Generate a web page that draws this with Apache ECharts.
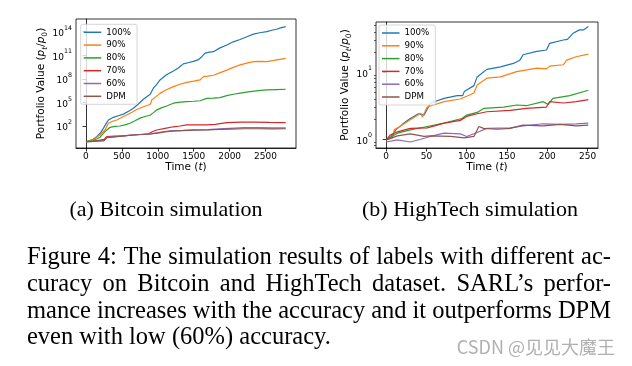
<!DOCTYPE html>
<html><head><meta charset="utf-8">
<script src="https://cdn.jsdelivr.net/npm/echarts@6/dist/echarts.min.js"></script>
<style>html,body{margin:0;padding:0;background:#fff}#c{width:632px;height:366px}</style>
</head><body><div id="c"></div><script>
// ---------- DATA ----------
const seriesNames = ['100%', '90%', '80%', '70%', '60%', 'DPM'];
const colors = ['#1f77b4', '#ff7f0e', '#2ca02c', '#d62728', '#9467bd', '#8c564b'];

// (a) Bitcoin simulation: [time, portfolio value]
const btc100 = [[0,1],[100,2],[149,4.4],[200,12.6],[242,50],[280,200],[312,575],[381,1.26e3],[450,2e3],[520,3.2e3],[600,7.9e3],[660,1.8e4],[730,6.3e4],[799,2.5e5],[860,6.3e5],[892,1e6],[938,6.3e6],[985,2e7],[1031,7.1e7],[1120,3.2e8],[1217,1e9],[1290,2.5e9],[1356,7.9e9],[1420,1.1e10],[1495,1.6e10],[1560,2.5e10],[1600,5e10],[1658,1.8e11],[1720,2.5e11],[1774,2.8e11],[1860,7.9e11],[1960,2e12],[2050,5e12],[2145,1e13],[2240,2.2e13],[2331,4.7e13],[2420,7.1e13],[2517,1e14],[2600,1.6e14],[2656,2e14],[2720,3.2e14],[2781,4.3e14]];
const btc90 = [[0,1],[100,1.8],[149,3.6],[200,7.9],[265,31],[312,219],[370,398],[428,575],[500,1.26e3],[567,2.5e3],[640,5.6e3],[706,1.26e4],[800,2.8e4],[869,4.7e4],[900,6.3e4],[915,2e5],[970,5e5],[1031,1.4e6],[1120,4e6],[1217,1e7],[1310,2e7],[1403,3.5e7],[1500,5e7],[1588,7.1e7],[1610,1.26e8],[1635,1.9e8],[1700,2.2e8],[1774,2.8e8],[1860,5.6e8],[1960,1.26e9],[2050,2.8e9],[2145,5.8e9],[2240,1e10],[2331,1.5e10],[2420,1.6e10],[2517,1.5e10],[2600,2e10],[2656,2.5e10],[2781,4e10]];
const btc80 = [[0,1],[100,1.4],[149,2.2],[200,4],[242,11.7],[290,31.6],[335,68],[400,89],[474,100],[540,141],[613,219],[690,501],[753,1e3],[820,1.6e3],[892,2.3e3],[940,5e3],[985,1.1e4],[1050,2e4],[1124,3.5e4],[1217,7.9e4],[1310,1.1e5],[1403,1.26e5],[1500,1.4e5],[1588,1.6e5],[1681,3.2e5],[1770,3.5e5],[1867,4e5],[1960,7.1e5],[2052,1.07e6],[2170,1.6e6],[2285,2.3e6],[2400,3.2e6],[2517,3.8e6],[2650,4.3e6],[2781,4.7e6]];
const btc70 = [[0,1],[100,1.12],[196,1.66],[250,2],[288,4.4],[400,5],[520,5.6],[660,7.1],[800,8.9],[870,10],[892,11.7],[930,20],[985,31],[1100,50],[1217,79],[1310,100],[1403,135],[1550,141],[1681,135],[1800,158],[1960,263],[2150,302],[2331,316],[2550,282],[2781,263]];
const btc60 = [[0,1],[100,1.12],[196,1.26],[250,1.41],[290,3.5],[400,4.5],[500,5.4],[650,7.1],[800,8.9],[900,10],[1000,14.1],[1100,20],[1200,25],[1350,28],[1500,32],[1700,35],[1850,42],[2000,50],[2200,60],[2400,60],[2600,56],[2781,56]];
const btcDPM = [[0,1],[100,1.12],[196,1.26],[250,1.32],[290,3.2],[400,4.2],[500,5.2],[650,7.1],[800,8.3],[900,9.5],[1000,12.6],[1100,17.8],[1200,22.4],[1350,26],[1500,29.5],[1700,31.6],[1850,35.5],[2000,39.8],[2200,44.7],[2400,44.7],[2600,41.7],[2781,44.7]];

// (b) HighTech simulation: [time, portfolio value]
const ht100 = [[0,0.98],[5,1.05],[12,1.38],[22,1.74],[30,2.04],[40,2.4],[47,2.29],[55,3.47],[72,4.07],[88,4.47],[95,4.47],[97,5.13],[109,6.3],[113,8.5],[125,11],[142,12],[158,13.5],[166,15.1],[170,18.2],[187,20.4],[199,21.4],[203,26.9],[220,30.2],[225,30.9],[232,38],[240,42.7],[245,42.7],[251,47.9]];
const ht90 = [[0,0.98],[8,1.05],[10,1.38],[18,1.58],[30,1.95],[43,2.45],[45,2.14],[51,3.02],[72,3.63],[92,3.98],[100,4.37],[109,4.9],[113,6.46],[125,8.13],[142,8.5],[162,10.2],[187,11.5],[199,11.2],[203,12.3],[220,12.9],[224,15.1],[236,17],[251,18.6]];
const ht80 = [[0,0.98],[14,1.23],[30,1.38],[51,1.55],[72,1.74],[94,2.04],[100,2.29],[113,2.51],[121,2.88],[146,3.02],[162,3.24],[174,3.16],[195,3.63],[201,3.31],[207,4.07],[228,4.47],[251,5.37]];
const ht70 = [[0,0.98],[5,1.15],[14,1.29],[30,1.45],[51,1.48],[72,1.74],[92,1.91],[100,2.19],[113,2.4],[125,2.57],[154,2.69],[174,2.88],[199,3.02],[203,3.63],[220,3.47],[236,3.63],[251,3.89]];
const ht60 = [[0,0.91],[14,0.98],[30,0.91],[43,1.0],[55,1.1],[72,1.23],[92,1.2],[100,1.1],[113,1.26],[125,1.45],[154,1.48],[170,1.58],[195,1.7],[216,1.66],[236,1.7],[251,1.74]];
const htDPM = [[0,0.98],[14,1.12],[30,1.2],[47,1.1],[55,1.12],[80,1.1],[97,1.05],[109,1.1],[115,1.55],[121,1.45],[138,1.41],[154,1.45],[170,1.62],[195,1.58],[216,1.66],[236,1.58],[251,1.62]];

// tick labels
const btcXTicks = [0, 500, 1000, 1500, 2000, 2500];
const btcYTicks = [1e2, 1e5, 1e8, 1e11, 1e14];
const htXTicks = [0, 50, 100, 150, 200, 250];
const htYTicks = [1, 10];
const htYMinorTicks = [0.8, 0.9, 2, 3, 4, 5, 6, 7, 8, 9, 20, 30, 40, 50];

// texts
const subCaptions = ['(a) Bitcoin simulation', '(b) HighTech simulation'];
const captionLines = [
  'Figure 4: The simulation results of labels with different ac-',
  'curacy on Bitcoin and HighTech dataset. SARL\u2019s perfor-',
  'mance increases with the accuracy and it outperforms DPM',
  'even with low (60%) accuracy.'
];
const watermark = 'CSDN @见见大魔王';

// ---------- CHART ----------
const SANS = 'DejaVu Sans';
const SERIF = 'Liberation Serif';
const TICK_FS = 9;

const supRich = {
  b: { fontFamily: SANS, fontSize: TICK_FS, color: '#000', lineHeight: 13, verticalAlign: 'bottom' },
  s: { fontFamily: SANS, fontSize: 6.3, color: '#000', lineHeight: 13, verticalAlign: 'top' }
};
function powLabel(v) {
  const e = Math.round(Math.log10(v));
  return '{b|10}{s|' + e + '}';
}
const nameRich = {
  n: { fontFamily: SANS, fontSize: 10.5, color: '#000', lineHeight: 15, verticalAlign: 'middle' },
  i: { fontFamily: SANS, fontSize: 10.5, fontStyle: 'italic', color: '#000', lineHeight: 15, verticalAlign: 'middle' },
  sb: { fontFamily: SANS, fontSize: 7.5, fontStyle: 'italic', color: '#000', lineHeight: 15, verticalAlign: 'bottom' },
  s0: { fontFamily: SANS, fontSize: 7.5, color: '#000', lineHeight: 15, verticalAlign: 'bottom' }
};
const yName = '{n|Portfolio Value (}{i|p}{sb|t}{n|/}{i|p}{s0|0}{n|)}';
const xName = '{n|Time (}{i|t}{n|)}';

const axisLineStyle = { show: true, lineStyle: { color: '#000', width: 0.8 } };
function xAxisCfg(gridIndex, min, max, ticks) {
  return {
    type: 'value', gridIndex, min, max,
    axisLine: axisLineStyle,
    splitLine: { show: false },
    axisTick: { show: true, length: 3.5, lineStyle: { color: '#000', width: 0.8 }, customValues: ticks },
    axisLabel: { customValues: ticks, formatter: v => String(v), fontFamily: SANS, fontSize: TICK_FS, color: '#000', margin: 4 },
    name: xName, nameLocation: 'middle', nameGap: 12,
    nameTextStyle: { rich: nameRich }
  };
}

const grids = [
  { left: 76, top: 19, width: 220, height: 129, show: true, borderColor: '#000', borderWidth: 0.8 },
  { left: 376, top: 22, width: 222, height: 126, show: true, borderColor: '#000', borderWidth: 0.8 }
];

const btcData = [btc100, btc90, btc80, btc70, btc60, btcDPM];
const htData = [ht100, ht90, ht80, ht70, ht60, htDPM];
const series = [];
btcData.forEach((d, k) => series.push({
  name: seriesNames[k], type: 'line', xAxisIndex: 0, yAxisIndex: 0, data: d,
  showSymbol: false, lineStyle: { color: colors[k], width: 1.2 }, itemStyle: { color: colors[k] }
}));
htData.forEach((d, k) => series.push({
  name: seriesNames[k], type: 'line', xAxisIndex: 1, yAxisIndex: 1, data: d,
  showSymbol: false, lineStyle: { color: colors[k], width: 1.2 }, itemStyle: { color: colors[k] }
}));

function legendCfg(left, top) {
  return {
    orient: 'vertical', left, top, data: seriesNames,
    icon: 'rect', itemWidth: 17.5, itemHeight: 1.5, itemGap: 2.8,
    textStyle: { fontFamily: SANS, fontSize: 8.7, color: '#000', lineHeight: 10 },
    borderColor: '#cccccc', borderWidth: 0.8, borderRadius: 2,
    backgroundColor: 'rgba(255,255,255,0.8)', padding: [3, 6, 3, 3],
    selectedMode: false
  };
}

// caption text, justified word by word
const SUB_FS = 22;
const CAP_FS = 24.5;
const measureCtx = document.createElement('canvas').getContext('2d');
function textLine(text, x0, x1, y, justify) {
  measureCtx.font = CAP_FS + 'px "' + SERIF + '"';
  const words = text.split(' ');
  const widths = words.map(w => measureCtx.measureText(w).width);
  const total = widths.reduce((a, b) => a + b, 0);
  const gap = justify ? (x1 - x0 - total) / (words.length - 1) : measureCtx.measureText(' ').width;
  const els = [];
  let x = x0;
  words.forEach((w, i) => {
    els.push({ type: 'text', x, y, silent: true,
      style: { text: w, fontFamily: SERIF, fontSize: CAP_FS, fill: '#000', align: 'left', verticalAlign: 'middle' } });
    x += widths[i] + gap;
  });
  return els;
}
const graphics = [];
graphics.push({ type: 'text', x: 166, y: 210, silent: true,
  style: { text: subCaptions[0], fontFamily: SERIF, fontSize: SUB_FS, fill: '#000', align: 'center', verticalAlign: 'middle' } });
graphics.push({ type: 'text', x: 470, y: 210, silent: true,
  style: { text: subCaptions[1], fontFamily: SERIF, fontSize: SUB_FS, fill: '#000', align: 'center', verticalAlign: 'middle' } });
const lineYs = [258, 285, 312, 338];
captionLines.forEach((t, i) => {
  textLine(t, 27, 611, lineYs[i], i < 3).forEach(e => graphics.push(e));
});
graphics.push({ type: 'text', x: 615, y: 347, silent: true,
  style: { text: watermark, fontFamily: 'Noto Sans CJK SC', fontSize: 18, fill: '#b0b0b0', align: 'right', verticalAlign: 'middle' } });

const option = {
  animation: false,
  backgroundColor: '#fff',
  grid: grids,
  xAxis: [
    xAxisCfg(0, -139, 2924, btcXTicks),
    xAxisCfg(1, -12.6, 263, htXTicks)
  ],
  yAxis: [
    { type: 'log', gridIndex: 0, min: Math.pow(10, -0.8), max: Math.pow(10, 15.6), logBase: 10,
      axisLine: axisLineStyle, splitLine: { show: false }, minorTick: { show: false },
      axisTick: { show: true, length: 3.5, lineStyle: { color: '#000', width: 0.8 }, customValues: btcYTicks },
      axisLabel: { customValues: btcYTicks, formatter: powLabel, rich: supRich, margin: 4 },
      name: yName, nameLocation: 'middle', nameGap: 26, nameTextStyle: { rich: nameRich } },
    { type: 'log', gridIndex: 1, min: 0.74, max: 56, logBase: 10, position: 'left',
      axisLine: axisLineStyle, splitLine: { show: false },
      axisTick: { show: true, length: 3.5, lineStyle: { color: '#000', width: 0.8 }, customValues: htYTicks },
      axisLabel: { customValues: htYTicks, formatter: powLabel, rich: supRich, margin: 4 },
      name: yName, nameLocation: 'middle', nameGap: 17, nameTextStyle: { rich: nameRich } },
    { type: 'log', gridIndex: 1, min: 0.74, max: 56, logBase: 10, position: 'left', offset: 0,
      axisLine: { show: false }, splitLine: { show: false },
      axisTick: { show: true, length: 2, lineStyle: { color: '#000', width: 0.6 }, customValues: htYMinorTicks },
      axisLabel: { show: false } }
  ],
  legend: [legendCfg(80.7, 24.3), legendCfg(379, 25)],
  series,
  graphic: graphics
};
const chart = echarts.init(document.getElementById('c'), null, { renderer: 'canvas' });
chart.setOption(option);
</script></body></html>
